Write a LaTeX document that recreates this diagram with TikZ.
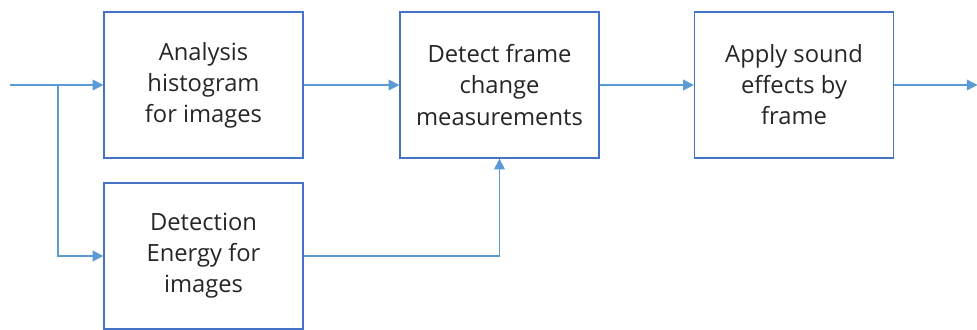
\documentclass[tikz,border=0pt]{standalone}
\usepackage{fontspec}
\setmainfont{Open Sans}
\usetikzlibrary{arrows.meta}
\definecolor{boxc}{HTML}{4472C4}
\definecolor{linec}{HTML}{5B9BD5}
\begin{document}
\begin{tikzpicture}[x=0.75pt,y=-0.75pt,
  blk/.style={draw=boxc,line width=1pt,minimum width=149.25pt,minimum height=109.5pt,inner sep=0pt,align=center,font=\fontsize{17.8}{23.3}\selectfont,text=black!85},
  conn/.style={draw=linec,line width=1pt,-{Triangle[length=8pt,width=8pt]}},
  line/.style={draw=linec,line width=1pt}]
\clip (0,0) rectangle (977,329);
\fill[white] (0,0) rectangle (977,329);
\node[blk] (a) at (203.5,85) {Analysis\\histogram\\for images};
\node[blk] (b) at (203.5,256) {Detection\\Energy for\\images};
\node[blk] (c) at (499.5,85) {Detect frame\\change\\measurements};
\node[blk] (d) at (794,85) {Apply sound\\effects by\\frame};
\coordinate (in) at (10,85);
\coordinate (br) at (58,85);
\coordinate (out) at (977.5,85);
\draw[conn] (in) -- (a.west);
\draw[conn] (br) |- (b.west);
\draw[conn] (a.east) -- (c.west);
\draw[conn] (b.east) -| (c.south);
\draw[conn] (c.east) -- (d.west);
\draw[conn] (d.east) -- (out);
\end{tikzpicture}
\end{document}
